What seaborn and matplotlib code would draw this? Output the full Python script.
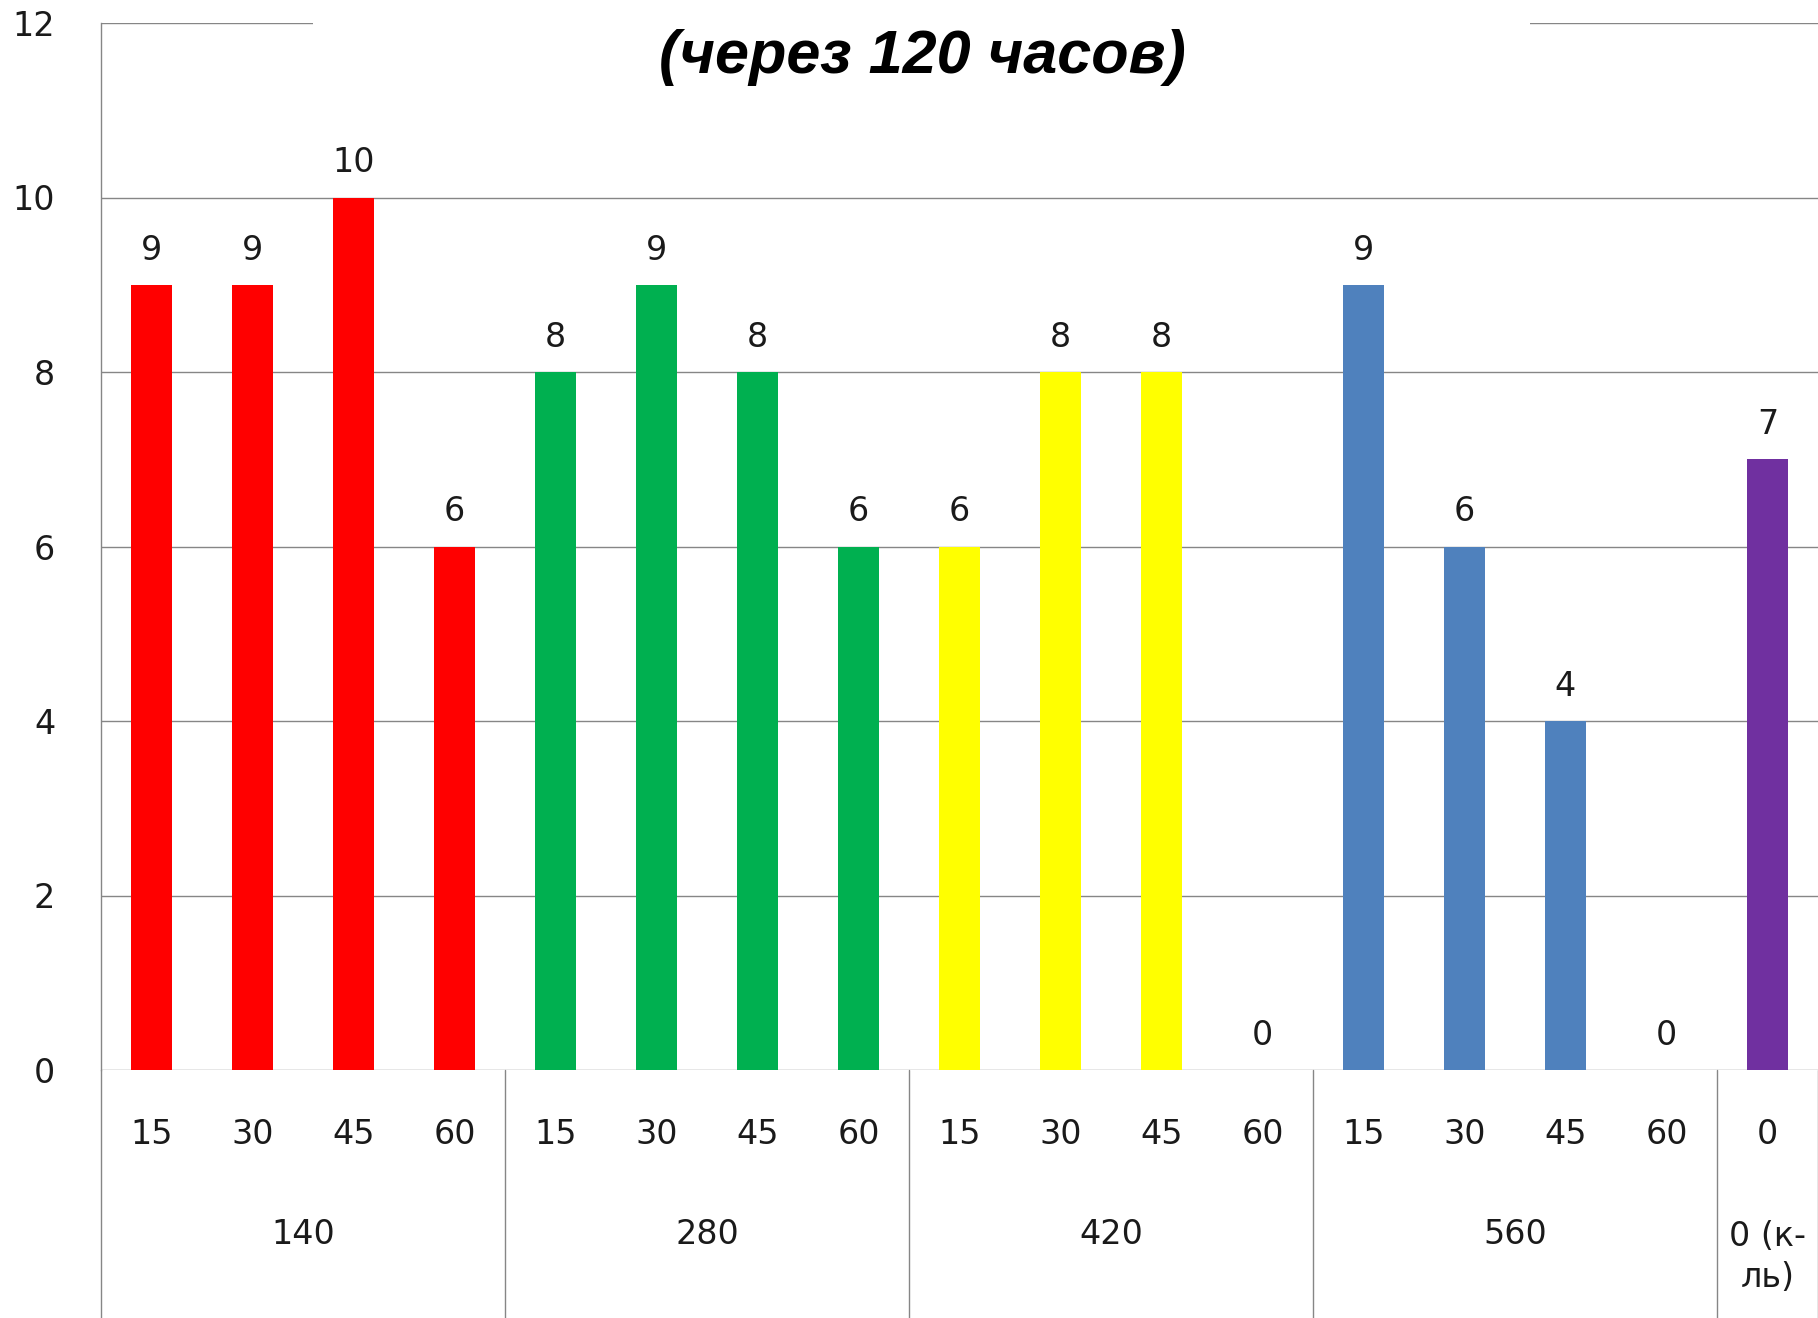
import numpy as np
import pandas as pd
import matplotlib
matplotlib.use('Agg')
import matplotlib.pyplot as plt
import matplotlib.transforms as mtransforms
from matplotlib.patches import Rectangle
import seaborn as sns

# data
groups=['140','280','420','560','0 (к-\nль)']
times=[['15','30','45','60'],['15','30','45','60'],['15','30','45','60'],['15','30','45','60'],['0']]
values_140=[9,9,10,6]
values_280=[8,9,8,6]
values_420=[6,8,8,0]
values_560=[9,6,4,0]
values_ctrl=[7]
group_colors=['#FF0000','#00B050','#FFFF00','#4F81BD','#7030A0']

all_values=[values_140,values_280,values_420,values_560,values_ctrl]
rows=[]
for g,ts,vs in zip(groups,times,all_values):
    for t,v in zip(ts,vs):
        rows.append({'bar':g+'|'+t,'group':g,'time':t,'value':v})
df=pd.DataFrame(rows)
palette={r['bar']:group_colors[groups.index(r['group'])] for _,r in df.iterrows()}

sns.set_style('white')
plt.rcParams['font.family']=['DejaVu Sans']
W,H=1818,1318
fig=plt.figure(figsize=(W/100,H/100),dpi=100)
left=101/W
bottom=1-1070/H
top=1-23/H
nbar=len(df)
slot=101.0
ax=fig.add_axes([left,bottom,nbar*slot/W,top-bottom])

sns.barplot(data=df,x='bar',y='value',hue='bar',palette=palette,width=0.4,
            legend=False,ax=ax,saturation=1,order=list(df['bar']),linewidth=0,edgecolor='none')
ax.set_xlim(-0.5,nbar-0.5)
ax.set_ylim(0,12)
ax.set_yticks(np.arange(0,13,2))
ax.yaxis.grid(True,color='#868686',linewidth=1.0)
ax.set_axisbelow(True)
for s in ['top','right','bottom']:
    ax.spines[s].set_visible(False)
ax.spines['left'].set_color('#868686')
ax.spines['left'].set_linewidth(1.0)
txtcol='#1a1a1a'
ax.tick_params(axis='y',length=0,pad=33,labelsize=24,labelcolor=txtcol)
ax.set_xticks([])
ax.set_xlabel('')
ax.set_ylabel('')

for cont in ax.containers:
    ax.bar_label(cont,fmt='%d',padding=13,fontsize=24,color=txtcol)

# multi-level category axis
trans=mtransforms.blended_transform_factory(ax.transData,ax.transAxes)
axh=1070-23
ybot=-(H-1070)/axh
bounds=[-0.5]
pos=0
for ts in times:
    pos+=len(ts)
    bounds.append(pos-0.5)
for b in bounds:
    ax.plot([b,b],[0,ybot],color='#868686',lw=1.0,transform=trans,clip_on=False)
for i,t in enumerate(df['time']):
    ax.text(i,-64/axh,t,transform=trans,ha='center',va='center',fontsize=24,color=txtcol)
start=0
for g,ts in zip(groups,times):
    c=start+(len(ts)-1)/2
    ax.text(c,-187/axh if '\n' in g else -165/axh,g,transform=trans,ha='center',va='center',fontsize=24,
            color=txtcol,linespacing=1.3)
    start+=len(ts)

# title box covering top gridline
fig.patches.append(Rectangle((313/W,1-110/H),(1530-313)/W,110/H,transform=fig.transFigure,
                             facecolor='white',edgecolor='none',zorder=2))
fig.text(922/W,1-58/H,'(через 120 часов)',ha='center',va='center',fontsize=44,
         fontweight='bold',fontstyle='italic',family=['Liberation Sans','DejaVu Sans'],color='black',zorder=3)

fig.savefig('out.png',dpi=100)
